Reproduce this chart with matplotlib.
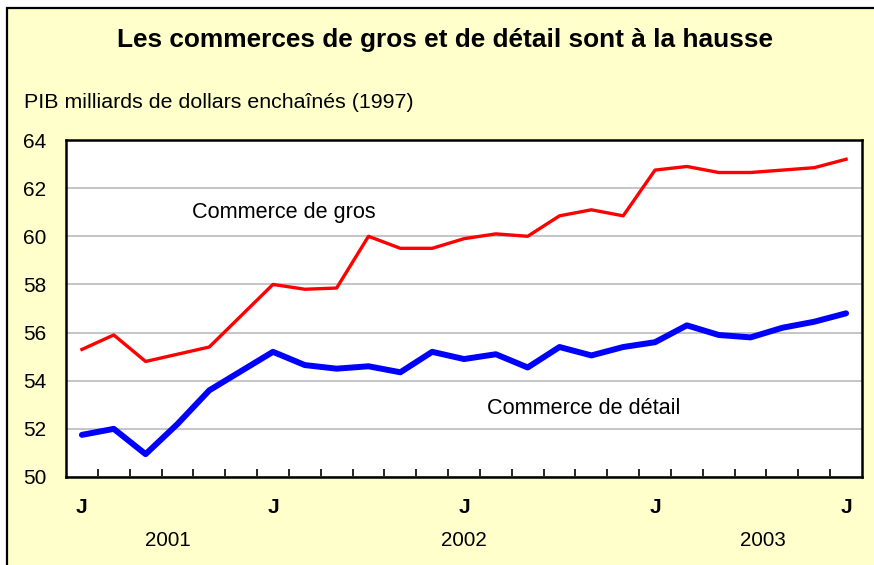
import matplotlib
matplotlib.use("Agg")
import matplotlib.pyplot as plt
from matplotlib.patches import Rectangle

plt.rcParams['font.family'] = ['Liberation Sans', 'DejaVu Sans']

months = list(range(25))  # Jan 2001 .. Jan 2003
gros = [55.3, 55.9, 54.8, 55.1, 55.4, 56.7, 58.0, 57.8, 57.85, 60.0, 59.5, 59.5,
        59.9, 60.1, 60.0, 60.85, 61.1, 60.85, 62.75, 62.9, 62.65, 62.65, 62.75, 62.85, 63.2]
detail = [51.75, 52.0, 50.95, 52.2, 53.6, 54.4, 55.2, 54.65, 54.5, 54.6, 54.35, 55.2,
          54.9, 55.1, 54.55, 55.4, 55.05, 55.4, 55.6, 56.3, 55.9, 55.8, 56.2, 56.45, 56.8]
month_tick_pos = [0, 6, 12, 18, 24]
month_tick_labels = ["J", "J", "J", "J", "J"]
year_pos = [2.7, 12.0, 21.4]
year_labels = ["2001", "2002", "2003"]
y_ticks = [50, 52, 54, 56, 58, 60, 62, 64]

title = "Les commerces de gros et de détail sont à la hausse"
ylabel = "PIB milliards de dollars enchaînés (1997)"
label_gros = "Commerce de gros"
label_detail = "Commerce de détail"

W, H = 874, 565
fig = plt.figure(figsize=(W / 100, H / 100), dpi=100)
fig.patch.set_facecolor("white")

# framed yellow background
bg = Rectangle((7 / W, -0.05), 1.2, 1 - 8 / H + 0.05,
               transform=fig.transFigure, facecolor="#FFFFCC",
               edgecolor="black", linewidth=1.6, zorder=-10)
fig.patches.append(bg)

ax = fig.add_axes([66 / W, 1 - 477 / H, (862 - 66) / W, (477 - 140) / H])
ax.set_zorder(1)
ax.set_facecolor("white")

ax.plot(months, gros, color="#FF0000", linewidth=2.4, solid_joinstyle="round", zorder=3)
ax.plot(months, detail, color="#0000FF", linewidth=4.3, solid_joinstyle="round",
        solid_capstyle="round", zorder=3)

ax.set_xlim(-0.5, 24.5)
ax.set_ylim(50, 64)
ax.set_yticks(y_ticks)
ax.yaxis.grid(True, color="#C0C0C0", linewidth=1.3)
ax.set_axisbelow(True)
ax.tick_params(axis="y", length=0, labelsize=15, pad=31)
for lbl in ax.get_yticklabels():
    lbl.set_horizontalalignment("left")

ax.set_xticks([m + 0.5 for m in months[:-1]])
ax.set_xticklabels([])
ax.tick_params(axis="x", direction="in", length=6, width=1.2, color="black")

for p, l in zip(month_tick_pos, month_tick_labels):
    ax.text(p, -0.09, l, transform=ax.get_xaxis_transform(), ha="center", va="center",
            fontsize=15, fontweight="bold")
for p, l in zip(year_pos, year_labels):
    ax.text(p, -0.187, l, transform=ax.get_xaxis_transform(), ha="center", va="center",
            fontsize=14.8)

for s in ax.spines.values():
    s.set_linewidth(1.8)
    s.set_color("black")

ax.text(6.33, 60.98, label_gros, ha="center", va="center", fontsize=15.6)
ax.text(15.76, 52.85, label_detail, ha="center", va="center", fontsize=15.6)

fig.text(445 / W, 1 - 40 / H, title, ha="center", va="center", fontsize=18.9,
         fontweight="bold")
fig.text(24 / W, 1 - 103 / H, ylabel, ha="left", va="center", fontsize=15.4)

fig.savefig("out.png", dpi=100)
